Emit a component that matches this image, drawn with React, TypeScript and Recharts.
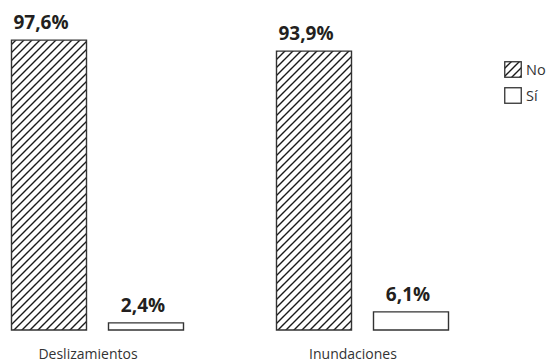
import React from "react";
import { BarChart, Bar, XAxis, YAxis, LabelList, Legend } from "recharts";

const categories = ["Deslizamientos", "Inundaciones"];
const noValues = [97.6, 93.9];
const siValues = [2.4, 6.1];
const noLabels = ["97,6%", "93,9%"];
const siLabels = ["2,4%", "6,1%"];
const seriesNames = ["No", "Sí"];

const data = categories.map((c, i) => ({
  name: c,
  no: noValues[i],
  si: siValues[i],
  noLabel: noLabels[i],
  siLabel: siLabels[i],
}));

const FONT = "'Open Sans', 'DejaVu Sans', sans-serif";

const makeLabel = (dx: number) => (props: any) => {
  const { x, y, width, value } = props;
  return (
    <text
      x={Number(x) + Number(width) / 2 + dx}
      y={Number(y) - 11}
      textAnchor="middle"
      fontFamily={FONT}
      fontWeight={700}
      fontSize={19}
      fill="#231f20"
    >
      {value}
    </text>
  );
};

const Tick = (props: any) => {
  const { x, payload } = props;
  return (
    <text
      x={Number(x) - 9}
      y={359}
      textAnchor="middle"
      fontFamily={FONT}
      fontSize={14}
      fill="#333"
    >
      {payload.value}
    </text>
  );
};

const HatchDefs = ({ id }: { id: string }) => (
  <pattern id={id} patternUnits="userSpaceOnUse" width="8" height="8">
    <rect width="8" height="8" fill="#fff" />
    <path d="M-2,2 l4,-4 M0,8 l8,-8 M6,10 l4,-4" stroke="#1a1a1a" strokeWidth="1.4" />
  </pattern>
);

const LegendContent = () => (
  <div style={{ fontFamily: FONT, fontSize: 14.5, color: "#333" }}>
    {seriesNames.map((n, i) => (
      <div key={n} style={{ display: "flex", alignItems: "center", height: 17, marginBottom: 9 }}>
        <svg width={18} height={17} style={{ display: "block" }}>
          <defs>
            <HatchDefs id={"lgHatch" + i} />
          </defs>
          <rect
            x={0.75}
            y={0.75}
            width={16.5}
            height={15.5}
            fill={i === 0 ? "url(#lgHatch0)" : "#fff"}
            stroke="#333"
            strokeWidth={1.3}
          />
        </svg>
        <span style={{ marginLeft: 4 }}>{n}</span>
      </div>
    ))}
  </div>
);

export default function App() {
  return (
    <div style={{ position: "absolute", left: 0, top: 0, width: 553, height: 362, background: "#fff" }}>
      <BarChart
        width={553}
        height={362}
        data={data}
        margin={{ top: 33, right: 10.5, bottom: 2, left: -35.5 }}
        barSize={75}
        barGap={22}
      >
        <defs>
          <HatchDefs id="hatch" />
        </defs>
        <XAxis
          dataKey="name"
          height={30}
          axisLine={false}
          tickLine={false}
          tickSize={0}
          tickMargin={0}
          tick={<Tick />}
          interval={0}
        />
        <YAxis hide domain={[0, 100]} />
        <Legend
          layout="vertical"
          align="right"
          verticalAlign="top"
          content={<LegendContent />}
          wrapperStyle={{ left: 504, top: 61, width: 48 }}
        />
        <Bar dataKey="no" name="No" fill="url(#hatch)" stroke="#333" strokeWidth={1.4} isAnimationActive={false}>
          <LabelList dataKey="noLabel" content={makeLabel(-8)} />
        </Bar>
        <Bar dataKey="si" name="Sí" fill="#fff" stroke="#333" strokeWidth={1.4} isAnimationActive={false}>
          <LabelList dataKey="siLabel" content={makeLabel(-3)} />
        </Bar>
      </BarChart>
    </div>
  );
}
